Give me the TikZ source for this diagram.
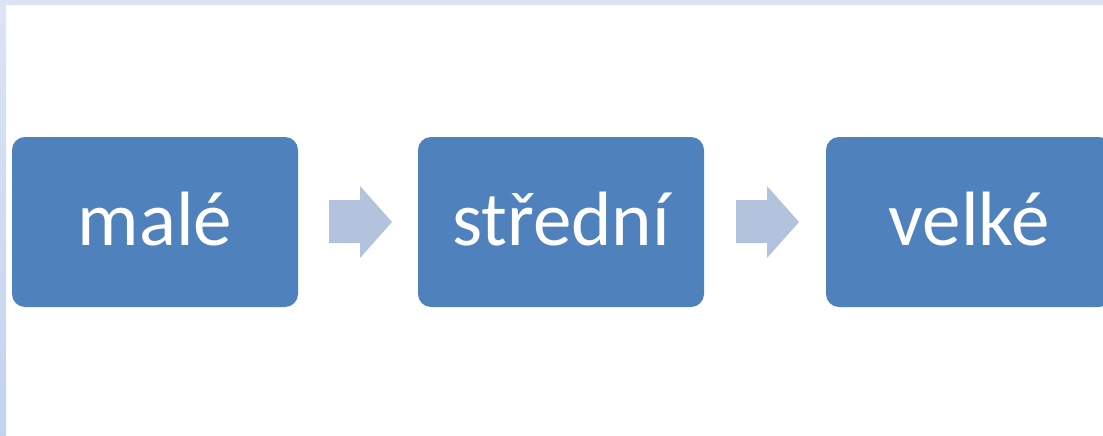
\documentclass[tikz,border=0pt]{standalone}
\usepackage{fontspec}
\setmainfont{Carlito}
\definecolor{boxblue}{HTML}{4F81BD}
\definecolor{arrowblue}{HTML}{B3C2DD}
\definecolor{bordertop}{HTML}{DCE4F4}
\definecolor{borderbot}{HTML}{C3D3EE}
\begin{document}
\begin{tikzpicture}[x=1pt,y=-1pt,
  stagebox/.style={fill=boxblue,draw=none,rounded corners=13pt},
  stagetext/.style={text=white,anchor=base,inner sep=0pt,font=\fontsize{77}{77}\selectfont},
  flowarrow/.style={fill=arrowblue,draw=none}]
\useasboundingbox (0,0) rectangle (1103,436);
\fill[white] (0,0) rectangle (1103,436);
% page border
\shade[top color=bordertop,bottom color=borderbot] (0,0) rectangle (6,436);
\fill[bordertop] (0,0) rectangle (1103,5);
% boxes
\begin{scope}
\clip (0,0) rectangle (1103,436);
\fill[stagebox] (12,137) rectangle (298,307);
\fill[stagebox] (418,137) rectangle (704,307);
\fill[stagebox] (826,137) rectangle (1112,307);
\end{scope}
\coordinate (b1) at (155,222);
\coordinate (b2) at (561,222);
\coordinate (b3) at (969,222);
\node[stagetext] (t1) at (155,245) {malé};
\node[stagetext] (t2) at (561,245) {střední};
\node[stagetext] (t3) at (969,245) {velké};
% arrows
\fill[flowarrow] (329,200) -- (360,200) -- (360,186) -- (392,222) -- (360,258) -- (360,243) -- (329,243) -- cycle;
\fill[flowarrow] (736,200) -- (767,200) -- (767,186) -- (799,222) -- (767,258) -- (767,243) -- (736,243) -- cycle;
\end{tikzpicture}
\end{document}
